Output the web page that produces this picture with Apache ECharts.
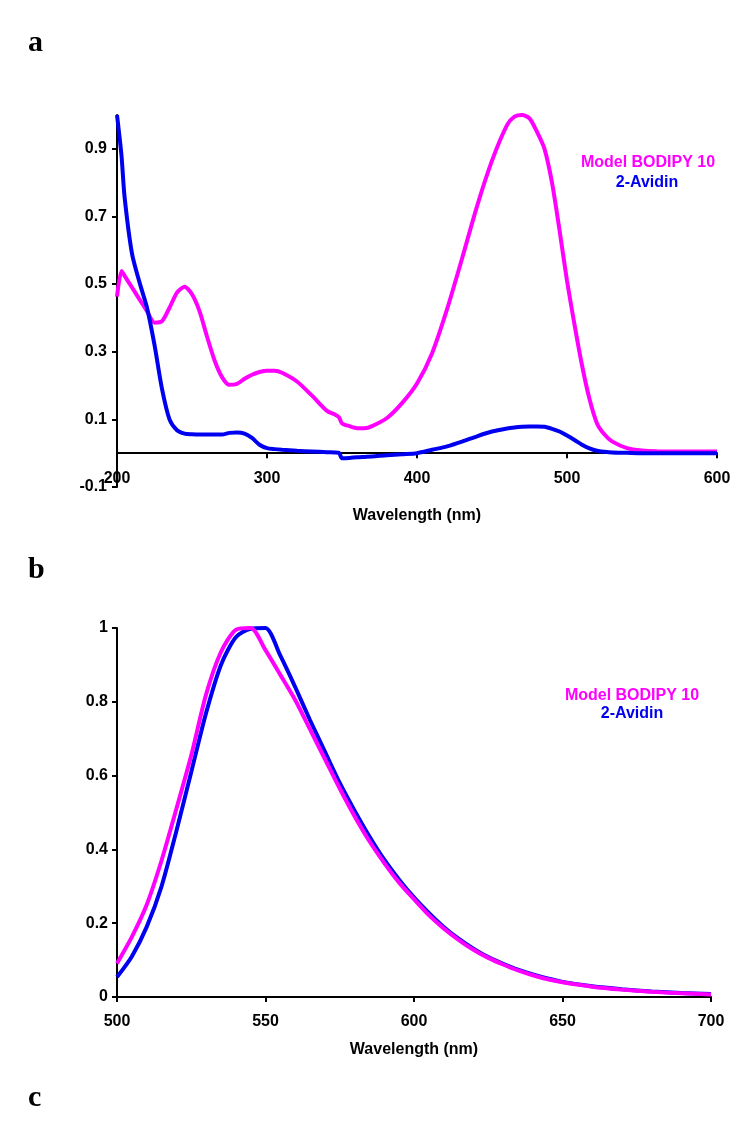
<!DOCTYPE html>
<html style="height: 100%">
<head>
    <meta charset="utf-8">
</head>
<body style="height: 100%; margin: 0; background-color: #fff;">
<div id="container" style="width: 750px; height: 1145px"></div>
<script type="text/javascript" src="https://cdn.jsdelivr.net/npm/echarts@6/dist/echarts.min.js"></script>
<script type="text/javascript">
// panel a - absorption
var wlA = [200, 203, 205, 210, 215, 220, 225, 230, 235, 240, 245, 250, 255, 260, 265, 270, 275, 280, 285, 290,
    295, 300, 305, 310, 320, 330, 340, 345, 348, 350, 355, 360, 365, 370, 380, 390, 400, 410, 420, 430,
    440, 450, 460, 465, 470, 475, 480, 485, 490, 495, 500, 505, 510, 515, 520, 525, 530, 540, 550, 560, 580, 600];
var modelA = [0.463, 0.539, 0.525, 0.49, 0.455, 0.42, 0.386, 0.39, 0.43, 0.475, 0.492, 0.47, 0.42, 0.345, 0.275, 0.225, 0.202, 0.205, 0.22, 0.232,
    0.24, 0.244, 0.244, 0.238, 0.212, 0.17, 0.125, 0.115, 0.106, 0.088, 0.08, 0.074, 0.074, 0.08, 0.104, 0.148, 0.206, 0.295, 0.425, 0.575,
    0.73, 0.865, 0.97, 0.995, 1.0, 0.99, 0.95, 0.9, 0.8, 0.66, 0.51, 0.38, 0.26, 0.16, 0.088, 0.055, 0.035, 0.015, 0.008, 0.006, 0.005, 0.005];
var avidinA = [1.0, 0.88, 0.76, 0.59, 0.505, 0.43, 0.32, 0.19, 0.1, 0.068, 0.058, 0.056, 0.055, 0.055, 0.055, 0.055, 0.06, 0.061, 0.058, 0.045,
    0.025, 0.015, 0.012, 0.01, 0.007, 0.005, 0.003, 0.002, 0.001, -0.015, -0.014, -0.012, -0.011, -0.01, -0.006, -0.003, 0.0, 0.01, 0.02, 0.034,
    0.05, 0.064, 0.073, 0.076, 0.078, 0.079, 0.079, 0.078, 0.072, 0.064, 0.052, 0.039, 0.025, 0.014, 0.007, 0.004, 0.002, 0.001, 0.0, 0.0, 0.0, 0.0];
var yTicksA = [-0.1, 0.1, 0.3, 0.5, 0.7, 0.9];

// panel b - emission
var wlB = [500, 505, 510, 515, 520, 525, 530, 535, 540, 545, 550, 555, 560, 565, 570, 575, 580, 585, 590, 595,
    600, 605, 610, 615, 620, 625, 630, 635, 640, 645, 650, 660, 670, 680, 690, 700];
var modelB = [0.091, 0.163, 0.25, 0.37, 0.51, 0.655, 0.82, 0.935, 0.995, 1.0, 0.94, 0.873, 0.805, 0.725, 0.645, 0.565, 0.49, 0.422, 0.363, 0.31,
    0.265, 0.222, 0.186, 0.155, 0.128, 0.106, 0.088, 0.072, 0.059, 0.048, 0.04, 0.028, 0.02, 0.014, 0.01, 0.007];
var avidinB = [0.054, 0.11, 0.19, 0.3, 0.45, 0.61, 0.77, 0.9, 0.975, 0.998, 1.0, 0.925, 0.84, 0.75, 0.665, 0.58, 0.505, 0.435, 0.372, 0.318,
    0.27, 0.228, 0.19, 0.158, 0.131, 0.108, 0.09, 0.074, 0.061, 0.05, 0.041, 0.029, 0.021, 0.015, 0.011, 0.008];

var seriesNames = ['Model BODIPY 10', '2-Avidin'];
var colors = ['#ff00ff', '#0000f0'];

function pairs(xs, ys) {
    return xs.map(function (x, i) { return [x, ys[i]]; });
}

var font = "'Liberation Sans', Arial, sans-serif";
var labelStyle = { color: '#000', fontWeight: 'bold', fontSize: 16, fontFamily: font };
var axisLine = { show: true, onZero: true, lineStyle: { color: '#000', width: 2 } };
var axisTick = { show: true, inside: false, length: 5, lineStyle: { color: '#000', width: 2 } };

var chart = echarts.init(document.getElementById('container'));

function lineSeries(name, color, xi, data) {
    return {
        name: name,
        type: 'line',
        xAxisIndex: xi,
        yAxisIndex: xi,
        data: data,
        showSymbol: false,
        smooth: 0.25,
        lineStyle: { color: color, width: 4 },
        itemStyle: { color: color }
    };
}

function legendText(x, y, text, color) {
    return {
        type: 'text', x: x, y: y,
        style: { text: text, fill: color, font: 'bold 16px ' + font, textAlign: 'center', textVerticalAlign: 'middle' }
    };
}

function panelLetter(y, text) {
    return {
        type: 'text', x: 28, y: y,
        style: { text: text, fill: '#000', font: "bold 30px 'Liberation Serif', 'Times New Roman', serif", textVerticalAlign: 'middle' }
    };
}

chart.setOption({
    animation: false,
    grid: [
        { left: 117, top: 115, width: 600, height: 372 },
        { left: 117, top: 628, width: 594, height: 369 }
    ],
    xAxis: [{
        gridIndex: 0, type: 'value', min: 200, max: 600, interval: 100,
        name: 'Wavelength (nm)', nameLocation: 'middle', nameGap: 21,
        nameTextStyle: labelStyle,
        axisLine: axisLine, axisTick: axisTick,
        axisLabel: Object.assign({ margin: -16 }, labelStyle),
        splitLine: { show: false }
    }, {
        gridIndex: 1, type: 'value', min: 500, max: 700, interval: 50,
        name: 'Wavelength (nm)', nameLocation: 'middle', nameGap: 45,
        nameTextStyle: labelStyle,
        axisLine: axisLine, axisTick: axisTick,
        axisLabel: Object.assign({ margin: 17 }, labelStyle),
        splitLine: { show: false }
    }],
    yAxis: [{
        gridIndex: 0, type: 'value', min: -0.1, max: 1.0,
        axisLine: axisLine,
        axisTick: Object.assign({ customValues: yTicksA }, axisTick),
        axisLabel: Object.assign({ margin: 10, customValues: yTicksA }, labelStyle),
        splitLine: { show: false }
    }, {
        gridIndex: 1, type: 'value', min: 0, max: 1, interval: 0.2,
        axisLine: axisLine, axisTick: axisTick,
        axisLabel: Object.assign({ margin: 9 }, labelStyle),
        splitLine: { show: false }
    }],
    series: [
        lineSeries(seriesNames[0], colors[0], 0, pairs(wlA, modelA)),
        lineSeries(seriesNames[1], colors[1], 0, pairs(wlA, avidinA)),
        lineSeries(seriesNames[1], colors[1], 1, pairs(wlB, avidinB)),
        lineSeries(seriesNames[0], colors[0], 1, pairs(wlB, modelB))
    ],
    graphic: [
        panelLetter(43, 'a'),
        panelLetter(570, 'b'),
        panelLetter(1098, 'c'),
        legendText(648, 163, seriesNames[0], colors[0]),
        legendText(647, 183, seriesNames[1], colors[1]),
        legendText(632, 696, seriesNames[0], colors[0]),
        legendText(632, 714, seriesNames[1], colors[1])
    ]
});
</script>
</body>
</html>
